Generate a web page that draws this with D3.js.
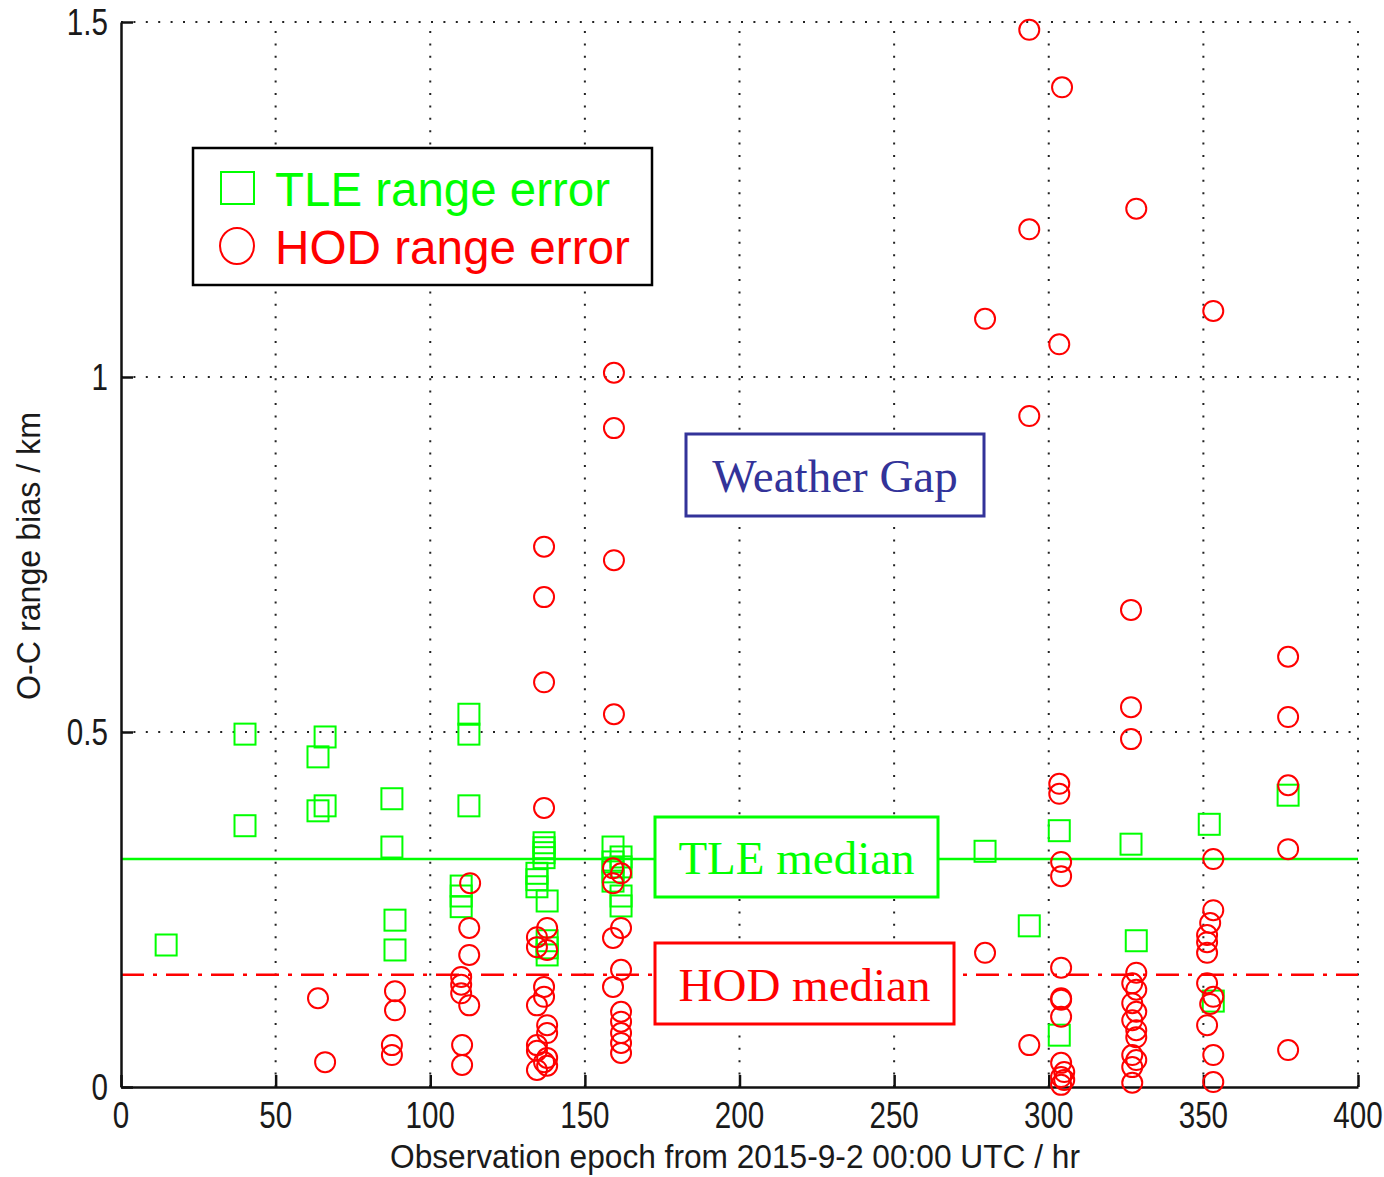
<!DOCTYPE html>
<html lang="en">
<head>
<meta charset="UTF-8">
<title>O-C range bias</title>
<script src="https://d3js.org/d3.v7.min.js"></script>
<style>
  body { margin: 0; background: #fff; }
  .tick-label { font-family: "Liberation Sans", Arial, sans-serif; font-size: 37px; fill: #1a1a1a; }
  .axis-title { font-family: "Liberation Sans", Arial, sans-serif; font-size: 34px; fill: #1a1a1a; }
  .legend-text { font-family: "Liberation Sans", Arial, sans-serif; font-size: 48px; }
  .note-text { font-family: "Liberation Serif", "Times New Roman", serif; font-size: 47px; }
</style>
</head>
<body>
<div id="chart"></div>
<script>
// TLE range error points: [epoch hr, bias km]
const tleEpoch = [14.6, 40.1, 40.1, 63.7, 66.0, 63.7, 66.0, 87.6, 87.6, 88.6, 88.6,
  112.5, 112.5, 112.5, 110.0, 110.0, 110.0,
  136.8, 136.8, 136.8, 136.8, 134.5, 134.5, 134.5, 137.8, 137.8, 137.8, 137.8,
  159.1, 159.1, 159.1, 159.1, 161.7, 161.7, 161.7, 161.7,
  279.4, 293.7, 303.4, 303.4, 326.6, 328.3, 351.9, 353.2, 377.4];
const tleBias = [0.200, 0.497, 0.368, 0.465, 0.493, 0.389, 0.396, 0.406, 0.338, 0.235, 0.193,
  0.525, 0.497, 0.396, 0.283, 0.269, 0.254,
  0.344, 0.337, 0.330, 0.323, 0.301, 0.292, 0.282, 0.262, 0.206, 0.196, 0.186,
  0.338, 0.317, 0.303, 0.290, 0.324, 0.310, 0.269, 0.255,
  0.332, 0.227, 0.361, 0.073, 0.342, 0.206, 0.370, 0.121, 0.411];

// HOD range error points
const hodEpoch = [293.7, 304.3, 328.3, 293.7, 279.4, 353.2, 303.4, 293.7,
  159.4, 159.4, 159.4, 159.4, 136.8, 136.8, 136.8, 136.8,
  326.6, 326.6, 326.6, 377.4, 377.4, 377.4, 377.4, 377.4,
  303.4, 303.4, 304.0, 304.0, 304.0, 304.0, 304.0, 304.0, 304.0, 305.0, 304.0, 305.0, 304.0,
  293.7, 279.4,
  328.3, 327.0, 328.3, 327.0, 328.3, 327.0, 328.3, 328.3, 327.0, 328.3, 327.0, 327.0,
  353.2, 353.2, 352.2, 351.2, 351.2, 351.2, 351.2, 353.2, 352.2, 351.2, 353.2, 353.2,
  88.6, 88.6, 87.6, 87.6, 63.7, 66.0,
  112.9, 112.6, 112.6, 110.0, 110.0, 110.0, 112.6, 110.3, 110.3,
  137.8, 134.5, 134.5, 137.8, 136.8, 136.8, 134.5, 137.8, 137.8, 134.5, 134.5, 137.8, 136.8, 134.5, 137.8,
  159.1, 161.7, 159.1, 161.7, 159.1, 161.7, 159.1, 161.7, 161.7, 161.7, 161.7, 161.7];
const hodBias = [1.489, 1.408, 1.237, 1.208, 1.082, 1.093, 1.046, 0.945,
  1.006, 0.928, 0.742, 0.525, 0.761, 0.690, 0.570, 0.393,
  0.672, 0.535, 0.490, 0.606, 0.521, 0.425, 0.335, 0.052,
  0.427, 0.413, 0.317, 0.297, 0.168, 0.125, 0.123, 0.099, 0.034, 0.021, 0.014, 0.010, 0.003,
  0.059, 0.189,
  0.161, 0.146, 0.137, 0.118, 0.106, 0.094, 0.080, 0.070, 0.045, 0.038, 0.028, 0.006,
  0.321, 0.249, 0.231, 0.214, 0.204, 0.189, 0.146, 0.127, 0.117, 0.087, 0.045, 0.007,
  0.135, 0.108, 0.059, 0.045, 0.125, 0.035,
  0.287, 0.224, 0.186, 0.155, 0.144, 0.132, 0.115, 0.059, 0.031,
  0.224, 0.211, 0.197, 0.193, 0.141, 0.127, 0.115, 0.087, 0.076, 0.059, 0.051, 0.041, 0.035, 0.024, 0.030,
  0.308, 0.301, 0.287, 0.224, 0.210, 0.165, 0.141, 0.106, 0.092, 0.076, 0.062, 0.048];

const tleMedian = 0.321;
const hodMedian = 0.158;

const xTicks = [0, 50, 100, 150, 200, 250, 300, 350, 400];
const yTicks = [0, 0.5, 1, 1.5];
const yTickLabels = ["0", "0.5", "1", "1.5"];

// dimensions
const width = 1384, height = 1177;
const margin = {top: 22, right: 26, bottom: 90, left: 121};

const svg = d3.select("#chart")
  .append("svg")
    .attr("width", width)
    .attr("height", height);

const x = d3.scaleLinear().domain([0, 400]).range([margin.left, width - margin.right]);
const y = d3.scaleLinear().domain([0, 1.5]).range([height - margin.bottom, margin.top]);

// dotted grid
svg.append("g")
  .selectAll("line")
  .data(xTicks.slice(1))
  .join("line")
    .attr("x1", d => x(d)).attr("x2", d => x(d))
    .attr("y1", y(0)).attr("y2", y(1.5))
    .attr("stroke", "#222").attr("stroke-width", 2)
    .attr("stroke-dasharray", "2,10.4");
svg.append("g")
  .selectAll("line")
  .data(yTicks.slice(1))
  .join("line")
    .attr("y1", d => y(d)).attr("y2", d => y(d))
    .attr("x1", x(0)).attr("x2", x(400))
    .attr("stroke", "#222").attr("stroke-width", 2)
    .attr("stroke-dasharray", "2,10.4");

// medians
svg.append("line")
  .attr("x1", x(0)).attr("x2", x(400))
  .attr("y1", y(tleMedian)).attr("y2", y(tleMedian))
  .attr("stroke", "#00ff00").attr("stroke-width", 2.5);
svg.append("line")
  .attr("x1", x(0)).attr("x2", x(400))
  .attr("y1", y(hodMedian)).attr("y2", y(hodMedian))
  .attr("stroke", "#ff0000").attr("stroke-width", 2.5)
  .attr("stroke-dasharray", "23,9,4,9");

// axes (ticks inside)
const xAxis = d3.axisBottom(x).tickValues(xTicks).tickSize(-12).tickFormat("").tickSizeOuter(0);
const yAxis = d3.axisLeft(y).tickValues(yTicks).tickSize(-12).tickFormat("").tickSizeOuter(0);
svg.append("g").attr("transform", `translate(0,${y(0)})`).call(xAxis)
  .call(g => g.selectAll("line, path").attr("stroke", "#111").attr("stroke-width", 2.5));
svg.append("g").attr("transform", `translate(${x(0)},0)`).call(yAxis)
  .call(g => g.selectAll("line, path").attr("stroke", "#111").attr("stroke-width", 2.5));

// tick labels, squeezed horizontally like the narrow font of the original
svg.append("g")
  .selectAll("text")
  .data(xTicks)
  .join("text")
    .attr("class", "tick-label")
    .attr("transform", d => `translate(${x(d)},${y(0) + 41}) scale(0.8,1)`)
    .attr("text-anchor", "middle")
    .text(d => d);
svg.append("g")
  .selectAll("text")
  .data(yTicks)
  .join("text")
    .attr("class", "tick-label")
    .attr("transform", d => `translate(${x(0) - 13},${y(d) + 13}) scale(0.8,1)`)
    .attr("text-anchor", "end")
    .text((d, i) => yTickLabels[i]);

// axis titles
svg.append("text")
  .attr("class", "axis-title")
  .attr("x", 735).attr("y", 1168)
  .attr("text-anchor", "middle")
  .attr("textLength", 690).attr("lengthAdjust", "spacingAndGlyphs")
  .text("Observation epoch from 2015-9-2 00:00 UTC / hr");
svg.append("text")
  .attr("class", "axis-title")
  .attr("transform", "translate(40,556) rotate(-90)")
  .attr("text-anchor", "middle")
  .attr("textLength", 288).attr("lengthAdjust", "spacingAndGlyphs")
  .text("O-C range bias / km");

// markers
const sq = 21;
svg.append("g")
  .selectAll("rect")
  .data(d3.range(tleEpoch.length))
  .join("rect")
    .attr("x", i => x(tleEpoch[i]) - sq / 2)
    .attr("y", i => y(tleBias[i]) - sq / 2)
    .attr("width", sq).attr("height", sq)
    .attr("fill", "none").attr("stroke", "#00ff00").attr("stroke-width", 2);
svg.append("g")
  .selectAll("circle")
  .data(d3.range(hodEpoch.length))
  .join("circle")
    .attr("cx", i => x(hodEpoch[i]))
    .attr("cy", i => y(hodBias[i]))
    .attr("r", 10)
    .attr("fill", "none").attr("stroke", "#ff0000").attr("stroke-width", 2);

// legend
const legend = svg.append("g");
legend.append("rect")
  .attr("x", 193).attr("y", 148).attr("width", 459).attr("height", 137)
  .attr("fill", "#fff").attr("stroke", "#000").attr("stroke-width", 2.5);
legend.append("rect")
  .attr("x", 221).attr("y", 172).attr("width", 33).attr("height", 32)
  .attr("fill", "none").attr("stroke", "#00ff00").attr("stroke-width", 2);
legend.append("ellipse")
  .attr("cx", 237).attr("cy", 246).attr("rx", 17).attr("ry", 18)
  .attr("fill", "none").attr("stroke", "#ff0000").attr("stroke-width", 2);
legend.append("text").attr("class", "legend-text")
  .attr("x", 275).attr("y", 206).attr("fill", "#00ff00")
  .attr("textLength", 335).attr("lengthAdjust", "spacingAndGlyphs")
  .text("TLE range error");
legend.append("text").attr("class", "legend-text")
  .attr("x", 275).attr("y", 264).attr("fill", "#ff0000")
  .attr("textLength", 355).attr("lengthAdjust", "spacingAndGlyphs")
  .text("HOD range error");

// annotation boxes
const notes = [
  {text: "Weather Gap", color: "#333399", x: 686, y: 434, w: 298, h: 82},
  {text: "TLE median", color: "#00ff00", x: 655, y: 817, w: 283, h: 80},
  {text: "HOD median", color: "#ff0000", x: 655, y: 943, w: 299, h: 81}
];
const note = svg.append("g")
  .selectAll("g")
  .data(notes)
  .join("g");
note.append("rect")
  .attr("x", d => d.x).attr("y", d => d.y)
  .attr("width", d => d.w).attr("height", d => d.h)
  .attr("fill", "#fff").attr("stroke", d => d.color).attr("stroke-width", 3);
note.append("text")
  .attr("class", "note-text")
  .attr("x", d => d.x + d.w / 2)
  .attr("y", d => d.y + d.h / 2 + 17)
  .attr("text-anchor", "middle")
  .attr("fill", d => d.color)
  .text(d => d.text);
</script>
</body>
</html>
